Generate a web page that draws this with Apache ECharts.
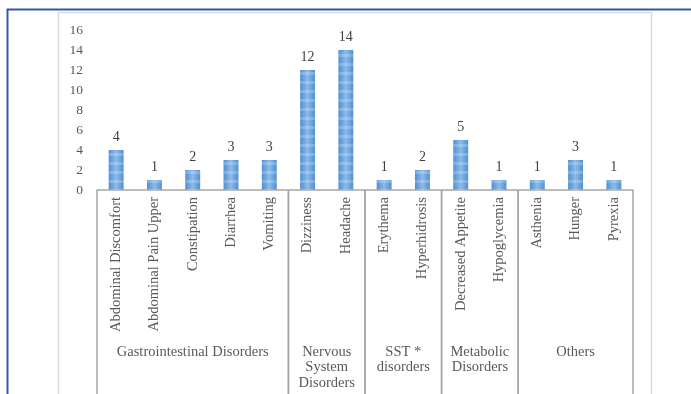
<!DOCTYPE html>
<html>
<head>
<meta charset="utf-8">
<script src="https://cdn.jsdelivr.net/npm/echarts@6/dist/echarts.min.js"></script>
<style>
  html, body { margin: 0; padding: 0; background: #fff; }
  #chart { width: 691px; height: 394px; }
</style>
</head>
<body>
<div id="chart"></div>
<script>
// Adverse events by preferred term
const categories = [
  'Abdominal Discomfort', 'Abdominal Pain Upper', 'Constipation', 'Diarrhea', 'Vomiting',
  'Dizziness', 'Headache',
  'Erythema', 'Hyperhidrosis',
  'Decreased Appetite', 'Hypoglycemia',
  'Asthenia', 'Hunger', 'Pyrexia'
];
const counts = [4, 1, 2, 3, 3, 12, 14, 1, 2, 5, 1, 1, 3, 1];

// System organ class groups: first index, last index, label
const groupStart = [0, 5, 7, 9, 11];
const groupEnd = [4, 6, 8, 10, 13];
const groupNames = [
  'Gastrointestinal Disorders',
  'Nervous\nSystem\nDisorders',
  'SST *\ndisorders',
  'Metabolic\nDisorders',
  'Others'
];

const yTicks = [0, 2, 4, 6, 8, 10, 12, 14, 16];

const SERIF = '"Liberation Serif", "Times New Roman", serif';
const TEXT = '#595959';

const chart = echarts.init(document.getElementById('chart'), null, { renderer: 'canvas' });

const barFill = new echarts.graphic.LinearGradient(0, 0, 1, 0, [
  { offset: 0, color: '#4f8fd3' },
  { offset: 0.5, color: '#8dbbe9' },
  { offset: 1, color: '#4f8fd3' }
]);

chart.setOption({
  animation: false,
  backgroundColor: '#fff',
  grid: { left: 97, right: 58, top: 30, bottom: 204, containLabel: false },
  graphic: [
    {
      type: 'rect', silent: true, z: -10,
      shape: { x: 58.5, y: 12.5, width: 593, height: 400 },
      style: { fill: 'none', stroke: '#d9d9d9', lineWidth: 1.5 }
    },
    {
      type: 'rect', silent: true, z: -9,
      shape: { x: 7.5, y: 9.5, width: 700, height: 400 },
      style: { fill: 'none', stroke: '#3558a2', lineWidth: 2 }
    }
  ],
  xAxis: {
    type: 'category',
    data: categories,
    boundaryGap: true,
    axisLine: { show: true, lineStyle: { color: '#a6a6a6', width: 1.5 } },
    axisTick: { show: false },
    axisLabel: {
      rotate: 90,
      interval: 0,
      margin: 7,
      fontFamily: SERIF,
      fontSize: 14.5,
      color: TEXT
    },
    splitLine: { show: false }
  },
  yAxis: {
    type: 'value',
    min: yTicks[0],
    max: yTicks[yTicks.length - 1],
    interval: 2,
    axisLine: { show: false },
    axisTick: { show: false },
    splitLine: { show: false },
    axisLabel: {
      margin: 14,
      fontFamily: SERIF,
      fontSize: 13.5,
      color: TEXT
    }
  },
  series: [
    {
      type: 'bar',
      data: counts,
      barWidth: '39%',
      itemStyle: {
        color: barFill,
        decal: {
          symbol: 'rect',
          color: 'rgba(255,255,255,0.2)',
          dashArrayX: [1, 0],
          dashArrayY: [3, 6],
          rotation: 0
        }
      },
      label: {
        show: true,
        position: 'top',
        distance: 6,
        fontFamily: SERIF,
        fontSize: 14,
        color: '#404040'
      }
    },
    {
      // group separators and group names beneath the category labels
      type: 'custom',
      coordinateSystem: 'cartesian2d',
      clip: false,
      silent: true,
      data: groupStart.map((s, i) => [s, groupEnd[i], groupNames[i]]),
      encode: { x: 0 },
      renderItem: function (params, api) {
        const band = api.size([1, 0])[0];
        const base = api.coord([api.value(0), 0]);
        const x0 = base[0] - band / 2;
        const x1 = api.coord([api.value(1), 0])[0] + band / 2;
        const y0 = base[1];
        const h = api.getHeight();
        const lineStyle = { stroke: '#a6a6a6', lineWidth: 1.5 };
        return {
          type: 'group',
          children: [
            { type: 'line', shape: { x1: x0, y1: y0, x2: x0, y2: h + 5 }, style: lineStyle },
            { type: 'line', shape: { x1: x1, y1: y0, x2: x1, y2: h + 5 }, style: lineStyle },
            {
              type: 'text',
              style: {
                text: groupNames[params.dataIndex],
                x: (x0 + x1) / 2,
                y: 344,
                align: 'center',
                verticalAlign: 'top',
                fontFamily: SERIF,
                fontSize: 14.5,
                lineHeight: 15.5,
                fill: TEXT
              }
            }
          ]
        };
      }
    }
  ]
});
</script>
</body>
</html>
